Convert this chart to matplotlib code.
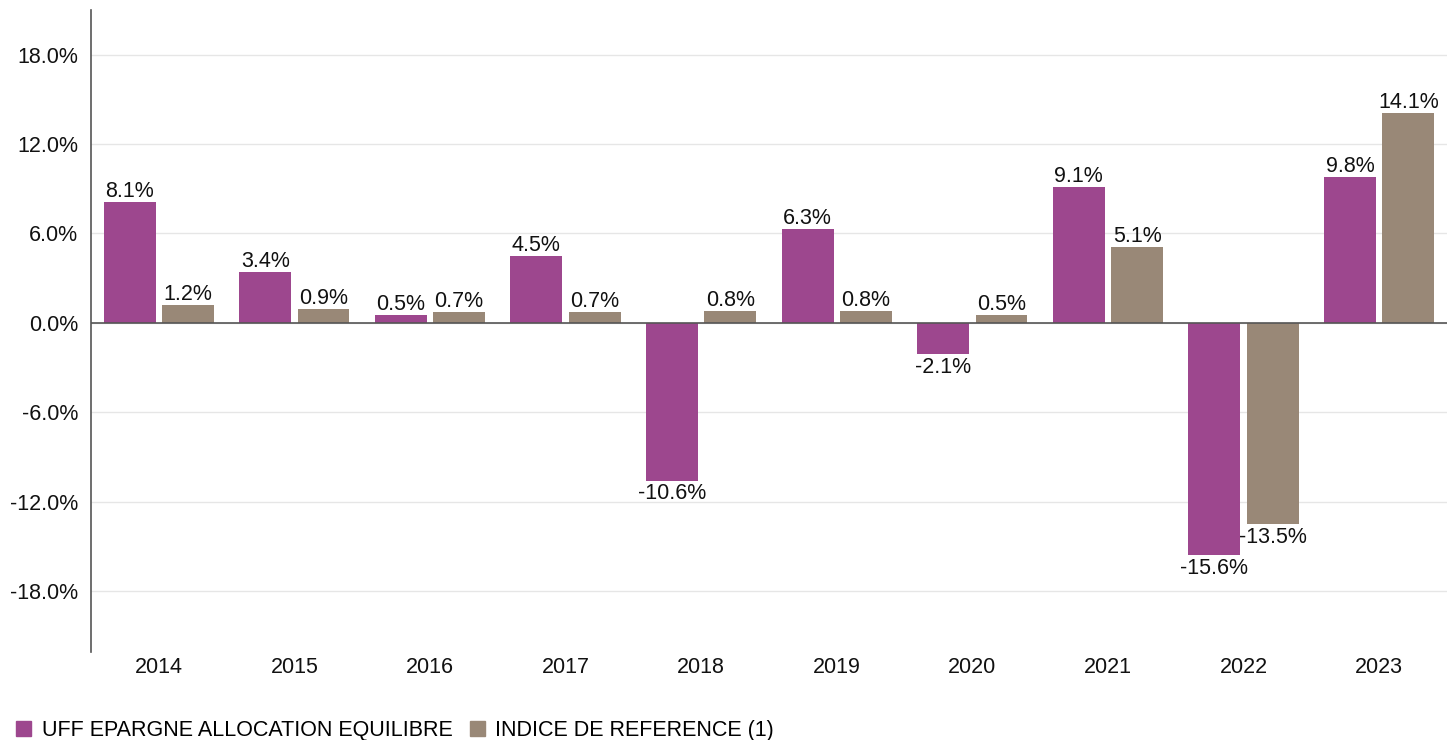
import numpy as np
import matplotlib
matplotlib.use("Agg")
import matplotlib.pyplot as plt
from matplotlib.patches import Patch

years = ["2014", "2015", "2016", "2017", "2018", "2019", "2020", "2021", "2022", "2023"]
fund = [8.1, 3.4, 0.5, 4.5, -10.6, 6.3, -2.1, 9.1, -15.6, 9.8]
index_ref = [1.2, 0.9, 0.7, 0.7, 0.8, 0.8, 0.5, 5.1, -13.5, 14.1]
series_names = ["UFF EPARGNE ALLOCATION EQUILIBRE", "INDICE DE REFERENCE (1)"]
yticks = [-18, -12, -6, 0, 6, 12, 18]

purple = "#9d478e"
taupe = "#998877"

plt.rcParams['font.family'] = ['Liberation Sans', 'DejaVu Sans']
fs = 15.5

fig = plt.figure(figsize=(14.48, 7.4), dpi=100)
ax = fig.add_axes([0.0628, 0.119, 0.9365, 0.8675])

x = np.arange(len(years))
w = 0.383
off = 0.215
b1 = ax.bar(x - off, fund, w, color=purple, zorder=3)
b2 = ax.bar(x + off, index_ref, w, color=taupe, zorder=3)

for bars, vals in ((b1, fund), (b2, index_ref)):
    for rect, v in zip(bars, vals):
        cx = rect.get_x() + rect.get_width() / 2
        if v >= 0:
            ax.annotate(f"{v:.1f}%", (cx, v), xytext=(0, 0), textcoords="offset points",
                        ha="center", va="bottom", fontsize=fs, color="#111111")
        else:
            ax.annotate(f"{v:.1f}%", (cx, v), xytext=(0, -2), textcoords="offset points",
                        ha="center", va="top", fontsize=fs, color="#111111")

ax.set_xlim(-0.5, len(years) - 0.5)
ax.set_ylim(-22.1, 21.0)
ax.set_yticks(yticks)
ax.set_yticklabels([f"{t:.1f}%" for t in yticks])
ax.set_xticks(x)
ax.set_xticklabels(years)
ax.tick_params(axis="both", length=0, labelsize=fs, colors="#111111")
ax.tick_params(axis="x", pad=4)
ax.tick_params(axis="y", pad=9)

ax.grid(axis="y", color="#e6e6e6", linewidth=1, zorder=0)
ax.axhline(0, color="#555555", linewidth=1.2, zorder=4)
for s in ("top", "right", "bottom"):
    ax.spines[s].set_visible(False)
ax.spines["left"].set_color("#555555")
ax.spines["left"].set_linewidth(1.2)

handles = [Patch(color=purple), Patch(color=taupe)]
fig.legend(handles, series_names, loc="lower left", bbox_to_anchor=(-0.0025, -0.028),
           ncol=2, frameon=False, fontsize=fs, handlelength=0.7, handleheight=0.7,
           handletextpad=0.5, columnspacing=0.8)

fig.savefig("out.png", dpi=100)
